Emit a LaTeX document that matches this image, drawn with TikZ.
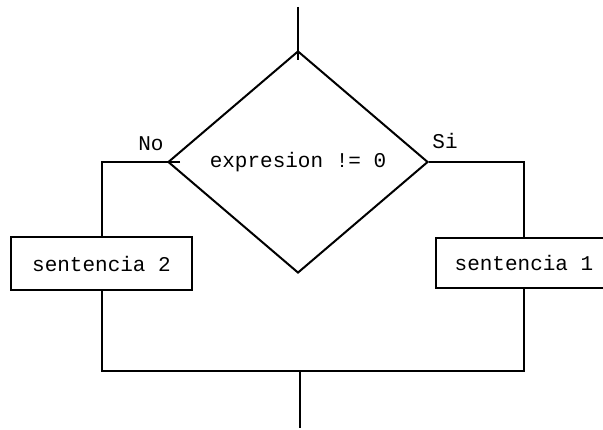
\documentclass[tikz,border=0pt]{standalone}
\usepackage{fontspec}
\setmonofont{Liberation Mono}
\usetikzlibrary{shapes.geometric}
\begin{document}
\begin{tikzpicture}[x=1pt,y=-1pt,line width=2pt,
  every node/.style={font=\ttfamily\fontsize{21}{24}\selectfont},
  decision/.style={draw,diamond,inner sep=0pt,minimum width=260pt,minimum height=222pt},
  stmt/.style={draw,rectangle,inner sep=0pt},
  lbl/.style={inner sep=0pt}]
  \useasboundingbox (0,0) rectangle (603,430);
  % entry and exit of the construct
  \coordinate (in) at (298,7);
  \coordinate (join) at (300,371);
  \coordinate (out) at (300,428);
  % condition
  \node[decision] (cond) at (298,162) {expresion != 0};
  % branch statements
  \node[stmt,minimum width=181pt,minimum height=53pt] (s2) at (101.5,263.5) {sentencia 2};
  \node[stmt,minimum width=176pt,minimum height=50pt] (s1) at (524,263) {sentencia 1};
  % branch labels
  \node[lbl] (no) at (151,144) {No};
  \node[lbl] (si) at (445,141) {Si};
  % connectors
  \draw (in) -- ([yshift=-10pt]cond.north);
  \draw ([xshift=13pt]cond.west) -| (s2.north);
  \draw (cond.east) -| (s1.north);
  \draw (s2.south) |- (join) -| (s1.south);
  \draw (join) -- (out);
\end{tikzpicture}
\end{document}
